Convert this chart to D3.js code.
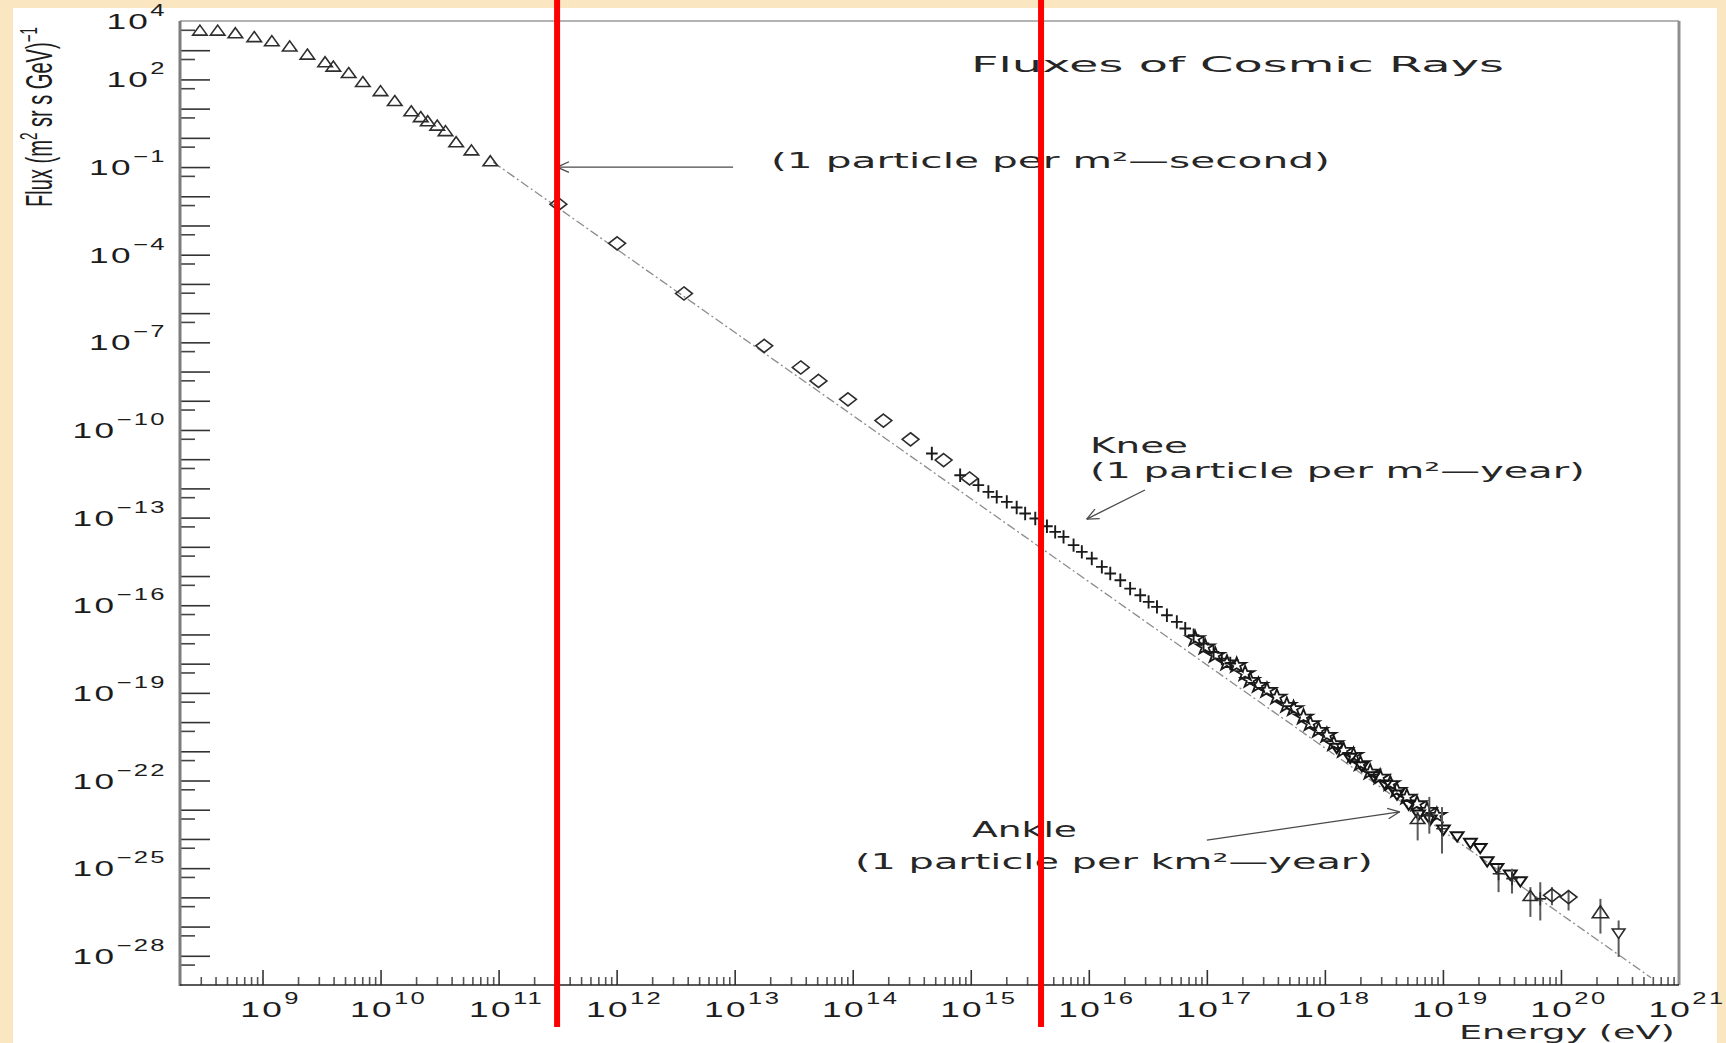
<!DOCTYPE html>
<html>
<head>
<meta charset="utf-8">
<title>Fluxes of Cosmic Rays</title>
<script src="https://cdn.jsdelivr.net/npm/d3@7"></script>
<style>
  html, body { margin: 0; padding: 0; background: #fae6c1; }
  svg { display: block; }
  text { font-family: "Liberation Sans", Arial, Helvetica, sans-serif; fill: #1c1c1c; }
  text.note { font-family: "DejaVu Sans", "Liberation Sans", sans-serif; font-weight: 400; fill: #262626; }
</style>
</head>
<body>
<svg id="chart" width="1726" height="1043"></svg>
<script>
// ---------------- data ----------------
// Axis ranges (eV, flux in (m^2 sr s GeV)^-1)
const xDomain = [2e8, 1e21];
const yDomain = [1e-29, 1e4];

// Tick label exponents
const xTickExponents = [9, 10, 11, 12, 13, 14, 15, 16, 17, 18, 19, 20, 21];
const yTickExponents = [4, 2, -1, -4, -7, -10, -13, -16, -19, -22, -25, -28];

// Low-energy direct measurements (open triangles)
const lowEnergyE = [2.95e8, 4.17e8, 5.89e8, 8.51e8, 1.20e9, 1.70e9, 2.40e9, 3.39e9, 3.98e9, 5.37e9,
  7.08e9, 1.00e10, 1.32e10, 1.82e10, 2.19e10, 2.51e10, 3.02e10, 3.55e10, 4.37e10, 5.89e10, 8.51e10];
const lowEnergyFlux = [4.27e3, 4.27e3, 3.47e3, 2.57e3, 1.86e3, 1.23e3, 6.46e2, 3.55e2, 2.51e2, 1.51e2,
  74.1, 36.3, 16.6, 7.41, 4.68, 3.39, 2.40, 1.55, 0.646, 0.339, 0.145];

// Balloon / satellite measurements (open diamonds)
const directE = [3.21e11, 1.01e12, 3.72e12, 1.78e13, 3.63e13, 5.13e13, 9.12e13, 1.82e14, 3.09e14, 5.89e14, 9.77e14];
const directFlux = [5.37e-3, 2.45e-4, 4.68e-6, 7.59e-8, 1.38e-8, 4.79e-9, 1.12e-9, 2.09e-10, 4.79e-11, 9.33e-12, 2.19e-12];

// Air-shower array around the knee (plus markers)
const kneeE = [4.68e14, 8.13e14, 1.16e15, 1.41e15, 1.66e15, 2.02e15, 2.45e15, 2.89e15, 3.52e15, 4.42e15,
  5.19e15, 6.11e15, 7.43e15, 8.73e15, 1.06e16, 1.29e16, 1.52e16, 1.85e16, 2.24e16, 2.73e16,
  3.21e16, 3.78e16, 4.59e16, 5.57e16, 6.56e16, 7.73e16, 9.38e16, 1.14e17, 1.34e17, 1.58e17];
const kneeFlux = [1.57e-11, 2.83e-12, 1.29e-12, 7.62e-13, 5.13e-13, 3.46e-13, 2.21e-13, 1.38e-13, 9.29e-14, 5.08e-14,
  3.25e-14, 2.19e-14, 1.14e-14, 6.71e-15, 3.97e-15, 2.06e-15, 1.22e-15, 7.19e-16, 3.72e-16, 2.20e-16,
  1.30e-16, 8.77e-17, 4.55e-17, 2.69e-17, 1.59e-17, 9.40e-18, 4.88e-18, 2.52e-18, 1.49e-18, 1.01e-18];

// Fluorescence / ground array data above the knee (open stars)
const highE1 = [7.96e16, 9.68e16, 1.18e17, 1.48e17, 1.79e17, 2.11e17, 2.33e17, 2.74e17, 3.23e17, 3.92e17,
  4.76e17, 5.43e17, 6.59e17, 7.52e17, 8.85e17, 1.04e18, 1.19e18, 1.44e18, 1.75e18, 2.00e18,
  2.42e18, 2.94e18, 3.58e18, 4.07e18, 4.95e18, 6.03e18, 7.33e18, 8.89e18];
const highFlux1 = [7.21e-18, 3.74e-18, 1.94e-18, 1.06e-18, 8.81e-19, 4.57e-19, 2.70e-19, 1.82e-19, 1.23e-19, 7.24e-20,
  3.76e-20, 2.89e-20, 1.50e-20, 8.85e-21, 5.24e-21, 3.53e-21, 1.83e-21, 1.08e-21, 7.29e-22, 3.78e-22,
  1.96e-22, 1.32e-22, 7.82e-23, 4.61e-23, 2.73e-23, 1.61e-23, 9.53e-24, 6.43e-24];

// Second ultra-high-energy data set (open down triangles)
const highE2 = [1.26e18, 1.64e18, 2.06e18, 2.59e18, 3.25e18, 4.08e18, 5.13e18, 6.22e18, 7.82e18,
  1.01e19, 1.32e19, 1.71e19, 2.07e19, 2.37e19, 2.87e19, 3.72e19, 4.53e19];
const highFlux2 = [1.41e-21, 6.40e-22, 3.32e-22, 1.51e-22, 7.82e-23, 3.56e-23, 1.61e-23, 7.35e-24, 4.95e-24,
  2.25e-24, 1.33e-24, 7.87e-25, 5.30e-25, 1.85e-25, 1.09e-25, 6.47e-26, 3.83e-26];

// Highest-energy points with error bars
const ankleE = [6.11e18, 7.67e18, 9.82e18, 2.96e19, 3.85e19, 5.51e19, 6.68e19, 8.39e19, 1.16e20, 2.16e20, 3.08e20];
const ankleFlux = [4.37e-24, 6.46e-24, 2.24e-24, 6.46e-26, 4.37e-26, 1.02e-26, 8.91e-27, 1.17e-26, 1.02e-26, 2.75e-27, 6.46e-28];
const ankleFluxHigh = [8.3e-24, 2.75e-23, 1.23e-23, 1.26e-25, 9.55e-26, 2.24e-26, 3.31e-26, 2.24e-26, 1.74e-26, 8.91e-27, 1.62e-27];
const ankleFluxLow = [8.9e-25, 1.51e-24, 3.16e-25, 1.51e-26, 1.35e-26, 2.14e-27, 1.62e-27, 5.37e-27, 3.55e-27, 5.75e-28, 9.12e-29];
const ankleMarker = ["triUp", "plus", "plus", "plus", "plus", "triUp", "plus", "diamond", "diamond", "triUpLarge", "triDown"];

// Power-law guide line (end points)
const guideE = [9.0e10, 5.8e20];
const guideFlux = [1.47e-1, 1.78e-29];

// Vertical reference energies
const referenceE = [3.13e11, 3.94e15];

// Annotation arrows: [fromE, fromFlux, toE, toFlux]
const arrowSecond = [9.7e12, 1.0e-1, 3.13e11, 1.0e-1];
const arrowKnee = [2.99e16, 8.8e-13, 9.6e15, 8.9e-14];
const arrowAnkle = [1.0e17, 9.1e-25, 4.3e18, 8.5e-24];

// ---------------- layout ----------------
const svg = d3.select("#chart");
const plot = { left: 180, right: 1679, top: 21, bottom: 985 };

svg.append("rect").attr("x", 13).attr("y", 8).attr("width", 1704).attr("height", 1035).attr("fill", "#ffffff");

const x = d3.scaleLog().domain(xDomain).range([plot.left, plot.right]);
const y = d3.scaleLog().domain(yDomain).range([plot.bottom, plot.top]);

// ---------------- axes ----------------
const xMajor = [], xMinor = [];
for (let e = 8; e <= 20; e++) {
  for (let k = 1; k <= 9; k++) {
    const v = k * Math.pow(10, e);
    if (v <= xDomain[0] || v >= xDomain[1]) continue;
    (k === 1 ? xMajor : xMinor).push(v);
  }
}
const yMajor = [], yMinor = [];
for (let e = -29; e <= 3; e++) {
  if (e > -29) yMajor.push(Math.pow(10, e));
  yMinor.push(5 * Math.pow(10, e));
}

function styleAxis(g, color) {
  g.select(".domain").remove();
  g.selectAll(".tick line").attr("stroke", color).attr("stroke-width", 1.6);
  g.selectAll(".tick text").remove();
}

svg.append("g").attr("transform", `translate(0,${plot.bottom})`)
  .call(d3.axisBottom(x).tickValues(xMajor).tickSize(-15).tickFormat(() => ""))
  .call(g => styleAxis(g, "#333"));
svg.append("g").attr("transform", `translate(0,${plot.bottom})`)
  .call(d3.axisBottom(x).tickValues(xMinor).tickSize(-8).tickFormat(() => ""))
  .call(g => styleAxis(g, "#555"));
svg.append("g").attr("transform", `translate(${plot.left},0)`)
  .call(d3.axisLeft(y).tickValues(yMajor).tickSize(-30).tickFormat(() => ""))
  .call(g => styleAxis(g, "#333"));
svg.append("g").attr("transform", `translate(${plot.left},0)`)
  .call(d3.axisLeft(y).tickValues(yMinor).tickSize(-15).tickFormat(() => ""))
  .call(g => styleAxis(g, "#444"));

// frame
svg.append("line").attr("x1", plot.left).attr("x2", plot.right).attr("y1", plot.top).attr("y2", plot.top)
  .attr("stroke", "#9a9a9a").attr("stroke-width", 1.5);
svg.append("line").attr("x1", plot.right).attr("x2", plot.right).attr("y1", plot.top).attr("y2", plot.bottom)
  .attr("stroke", "#8f8f8f").attr("stroke-width", 3);
svg.append("line").attr("x1", plot.left).attr("x2", plot.left).attr("y1", plot.top).attr("y2", plot.bottom + 1)
  .attr("stroke", "#7c7c7c").attr("stroke-width", 3);
svg.append("line").attr("x1", plot.left).attr("x2", plot.right).attr("y1", plot.bottom).attr("y2", plot.bottom)
  .attr("stroke", "#222").attr("stroke-width", 1.6);

// tick labels: 10 with superscript exponent, drawn horizontally stretched
const sup = e => (e < 0 ? "\u2212" + Math.abs(e) : String(e));

xTickExponents.forEach(e => {
  const g = svg.append("g").attr("transform", `translate(${x(Math.pow(10, e)) + 8},1017) scale(1.6,1)`);
  const t = g.append("text").attr("text-anchor", "middle").style("letter-spacing", "1.5px");
  t.append("tspan").attr("font-size", 22).text("10");
  t.append("tspan").attr("font-size", 16).attr("dy", -13).text(sup(e));
});

yTickExponents.forEach(e => {
  const g = svg.append("g").attr("transform", `translate(167,${y(Math.pow(10, e)) + 8}) scale(1.6,1)`);
  const t = g.append("text").attr("text-anchor", "end").style("letter-spacing", "1.5px");
  t.append("tspan").attr("font-size", 22).text("10");
  t.append("tspan").attr("font-size", 16).attr("dy", -13).text(sup(e));
});

// y-axis title (rotated, stretched across the glyphs)
{
  const g = svg.append("g");
  const t = g.append("text").attr("font-size", 21);
  t.append("tspan").text("Flux (m");
  t.append("tspan").attr("font-size", 14).attr("dy", -9).text("2");
  t.append("tspan").attr("dy", 9).text(" sr s GeV)");
  t.append("tspan").attr("font-size", 14).attr("dy", -9).text("\u22121");
  const w = t.node().getComputedTextLength();
  g.attr("transform", `translate(52,207) scale(1.72,1) rotate(-90) scale(${180 / w},1)`);
}

// ---------------- guide line ----------------
svg.append("path")
  .datum(guideE.map((e, i) => [e, guideFlux[i]]))
  .attr("d", d3.line().x(d => x(d[0])).y(d => y(d[1])))
  .attr("fill", "none").attr("stroke", "#8c8c8c").attr("stroke-width", 1.3)
  .attr("stroke-dasharray", "9 3 2 3");

// ---------------- markers ----------------
const markerPaths = {
  triUp: { d: d3.symbol(d3.symbolTriangle2, 150)(), sx: 1, sy: 0.8 },
  triUpLarge: { d: d3.symbol(d3.symbolTriangle2, 190)(), sx: 1, sy: 0.85 },
  triDown: { d: d3.symbol(d3.symbolTriangle2, 115)(), sx: 1, sy: -0.85 },
  diamond: { d: d3.symbol(d3.symbolDiamond2, 180)(), sx: 1, sy: 0.78 },
  plus: { d: d3.symbol(d3.symbolPlus, 46)(), sx: 1, sy: 1.15 },
  star: { d: d3.symbol(d3.symbolStar, 85)(), sx: 1.1, sy: 0.9 }
};

function drawSeries(E, F, kind, color, width) {
  const m = markerPaths[kind];
  svg.append("g").selectAll("path")
    .data(E.map((e, i) => [e, F[i]]))
    .join("path")
    .attr("d", m.d)
    .attr("transform", d => `translate(${x(d[0])},${y(d[1])}) scale(${m.sx},${m.sy})`)
    .attr("fill", "none")
    .attr("stroke", color)
    .attr("stroke-width", width)
    .attr("vector-effect", "non-scaling-stroke");
}

drawSeries(lowEnergyE, lowEnergyFlux, "triUp", "#2e2e2e", 1.6);
drawSeries(directE, directFlux, "diamond", "#2e2e2e", 1.6);
drawSeries(kneeE, kneeFlux, "plus", "#1a1a1a", 1.9);
drawSeries(highE1, highFlux1, "star", "#1a1a1a", 1.8);
drawSeries(highE2, highFlux2, "triDown", "#141414", 2);

// error bars and markers at the highest energies
svg.append("g").selectAll("line")
  .data(ankleE.map((e, i) => ({ e, hi: ankleFluxHigh[i], lo: ankleFluxLow[i] })))
  .join("line")
  .attr("x1", d => x(d.e)).attr("x2", d => x(d.e))
  .attr("y1", d => y(d.hi)).attr("y2", d => y(d.lo))
  .attr("stroke", "#5a5a5a").attr("stroke-width", 2);

ankleE.forEach((e, i) => {
  const m = markerPaths[ankleMarker[i]];
  svg.append("path")
    .attr("d", m.d)
    .attr("transform", `translate(${x(e)},${y(ankleFlux[i])}) scale(${m.sx},${m.sy})`)
    .attr("fill", ankleMarker[i] === "triDown" ? "#fff" : "none")
    .attr("stroke", "#2a2a2a").attr("stroke-width", 1.6)
    .attr("vector-effect", "non-scaling-stroke");
});

// ---------------- annotations ----------------
function stretchedText(str, x0, base, width, size) {
  const g = svg.append("g");
  const t = g.append("text").attr("class", "note").attr("font-size", size).text(str);
  const w = t.node().getBBox().width;
  g.attr("transform", `translate(${x0},${base}) scale(${width / w},1)`);
}

stretchedText("Fluxes of Cosmic Rays", 971, 72, 533, 22);
stretchedText("(1 particle per m\u00b2\u2014second)", 771, 168, 559, 21);
stretchedText("Knee", 1090, 453, 98, 21);
stretchedText("(1 particle per m\u00b2\u2014year)", 1090, 478, 495, 21);
stretchedText("Ankle", 972, 837, 105, 21);
stretchedText("(1 particle per km\u00b2\u2014year)", 855, 869, 518, 21);
stretchedText("Energy (eV)", 1459, 1039, 216, 19);

function drawArrow(a) {
  const x1 = x(a[0]), y1 = y(a[1]), x2 = x(a[2]), y2 = y(a[3]);
  const ang = Math.atan2(y2 - y1, x2 - x1);
  const g = svg.append("g").attr("stroke", "#4a4a4a").attr("stroke-width", 1.3).attr("fill", "none");
  g.append("line").attr("x1", x1).attr("y1", y1).attr("x2", x2).attr("y2", y2);
  [-0.42, 0.42].forEach(da => {
    g.append("line").attr("x1", x2).attr("y1", y2)
      .attr("x2", x2 - 13 * Math.cos(ang + da)).attr("y2", y2 - 13 * Math.sin(ang + da));
  });
}
drawArrow(arrowSecond);
drawArrow(arrowKnee);
drawArrow(arrowAnkle);

// ---------------- vertical reference lines ----------------
svg.append("g").selectAll("line")
  .data(referenceE)
  .join("line")
  .attr("x1", d => x(d)).attr("x2", d => x(d))
  .attr("y1", 0).attr("y2", 1027)
  .attr("stroke", "#ff0000").attr("stroke-width", 6);
</script>
</body>
</html>
